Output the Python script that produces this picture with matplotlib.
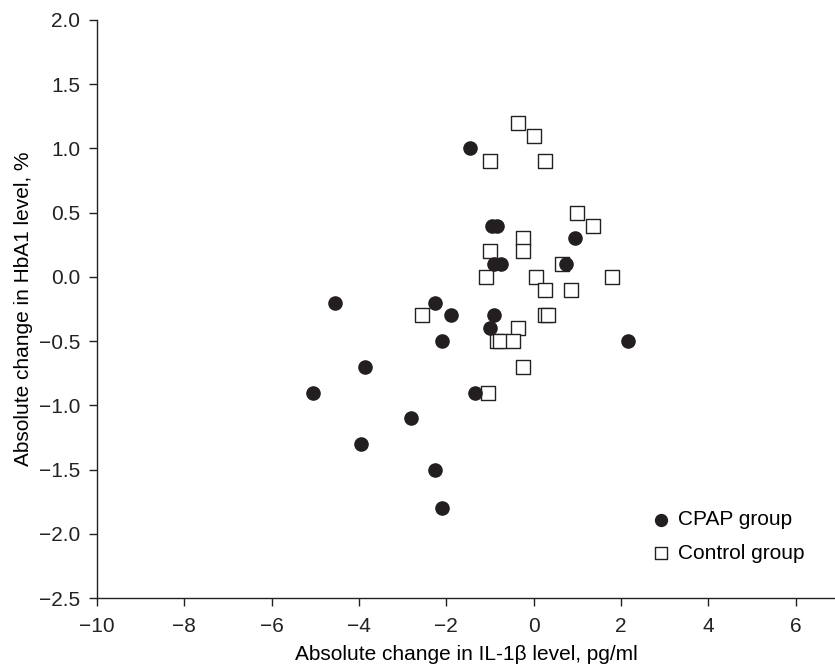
import matplotlib
matplotlib.use("Agg")
import matplotlib.pyplot as plt
from matplotlib.ticker import FuncFormatter

plt.rcParams['font.family'] = ['Liberation Sans', 'DejaVu Sans']

# CPAP group (filled circles)
cpap_x = [-1.45, -0.95, -0.85, 0.95, -0.9, -0.75, 0.75, -2.25, -1.9, -0.9,
          -1.0, -2.1, 2.15, -1.35, -2.8, -4.55, -3.85, -5.05, -3.95, -2.25, -2.1]
cpap_y = [1.0, 0.4, 0.4, 0.3, 0.1, 0.1, 0.1, -0.2, -0.3, -0.3,
          -0.4, -0.5, -0.5, -0.9, -1.1, -0.2, -0.7, -0.9, -1.3, -1.5, -1.8]

# Control group (open squares)
ctrl_x = [-0.35, 0.0, -1.0, 0.25, 1.0, 1.35, -0.25, -0.25, -1.0, 0.65, -1.1, 0.05,
          1.8, 0.25, 0.85, -2.55, 0.25, 0.32, -0.35, -0.85, -0.78, -0.48, -0.25, -1.05]
ctrl_y = [1.2, 1.1, 0.9, 0.9, 0.5, 0.4, 0.3, 0.2, 0.2, 0.1, 0.0, 0.0,
          0.0, -0.1, -0.1, -0.3, -0.3, -0.3, -0.4, -0.5, -0.5, -0.5, -0.7, -0.9]

x_ticks = [-10, -8, -6, -4, -2, 0, 2, 4, 6]
y_ticks = [-2.5, -2.0, -1.5, -1.0, -0.5, 0.0, 0.5, 1.0, 1.5, 2.0]

fig = plt.figure(figsize=(8.35, 6.66), dpi=100)
ax = fig.add_axes([0.116, 0.102, 0.884, 0.868])

ax.scatter(ctrl_x, ctrl_y, marker='s', s=100, facecolor='white', edgecolor='#222222',
           linewidth=1.0, label='Control group', zorder=2)
ax.scatter(cpap_x, cpap_y, marker='o', s=90, color='#231f20', label='CPAP group', zorder=3)

ax.set_xlim(-10, 6.9)
ax.set_ylim(-2.5, 2.0)
ax.set_xticks(x_ticks)
ax.set_yticks(y_ticks)
ax.yaxis.set_major_formatter(FuncFormatter(lambda v, p: ('%.1f' % v).replace('-', '\u2212')))
ax.xaxis.set_major_formatter(FuncFormatter(lambda v, p: ('%d' % v).replace('-', '\u2212')))

for s in ['top', 'right']:
    ax.spines[s].set_visible(False)
for s in ['left', 'bottom']:
    ax.spines[s].set_linewidth(1.0)
    ax.spines[s].set_color('#222222')
ax.tick_params(direction='out', length=5.5, width=1, labelsize=15, colors='#222222')
ax.tick_params(axis='x', pad=8)
ax.tick_params(axis='y', pad=6.5)

ax.set_xlabel('Absolute change in IL-1\u03b2 level, pg/ml', fontsize=15, labelpad=6.5)
ax.set_ylabel('Absolute change in HbA1 level, %', fontsize=15, labelpad=4)

handles, labels = ax.get_legend_handles_labels()
ax.legend(handles[::-1], labels[::-1], loc='upper left', frameon=False, fontsize=15,
          handlelength=0.8, handletextpad=0.4, borderpad=0, borderaxespad=0,
          labelspacing=0.7, markerscale=0.9,
          bbox_to_anchor=(653 / 835, 1 - 510 / 666), bbox_transform=fig.transFigure)

fig.savefig('out.png', dpi=100)
